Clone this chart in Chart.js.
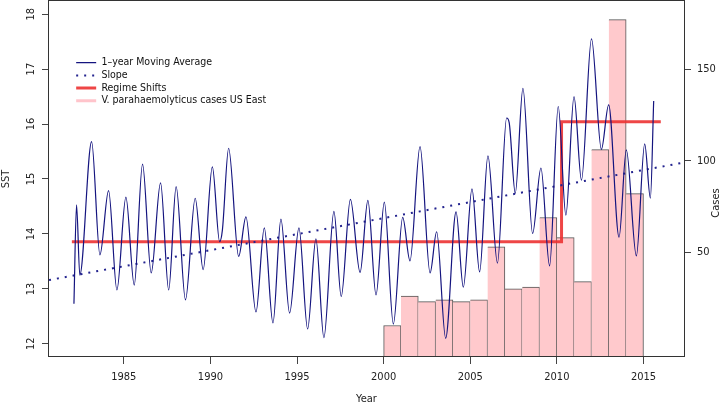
<!DOCTYPE html>
<html>
<head>
<meta charset="utf-8">
<script src="https://cdn.jsdelivr.net/npm/chart.js@4/dist/chart.umd.min.js"></script>
<style>
  html, body { margin: 0; padding: 0; background: #fff; }
  #chart { display: block; }
</style>
</head>
<body>
<canvas id="chart" width="720" height="406"></canvas>
<script>
// values (turning points of the moving average)
var maYears = [1982.12, 1982.27, 1982.46, 1983.14, 1983.62, 1984.12, 1984.60, 1985.12, 1985.60, 1986.08,
  1986.58, 1987.12, 1987.59, 1988.02, 1988.56, 1989.12, 1989.58, 1990.11, 1990.53, 1990.69,
  1991.05, 1991.63, 1992.05, 1992.63, 1993.11, 1993.61, 1994.07, 1994.57, 1995.11, 1995.61,
  1996.09, 1996.55, 1997.13, 1997.55, 1998.08, 1998.64, 1999.09, 1999.56, 2000.04, 2000.56,
  2001.10, 2001.52, 2002.10, 2002.68, 2003.06, 2003.58, 2004.18, 2004.60, 2005.10, 2005.54,
  2006.02, 2006.57, 2007.10, 2007.25, 2007.60, 2008.04, 2008.60, 2009.08, 2009.58, 2010.08,
  2010.52, 2010.99, 2011.42, 2012.00, 2012.57, 2012.99, 2013.59, 2014.01, 2014.59, 2015.07,
  2015.40, 2015.59];
var maValues = [12.73, 14.53, 13.25, 15.68, 13.62, 14.79, 12.98, 14.67, 13.07, 15.27,
  13.29, 14.93, 12.98, 14.86, 12.80, 14.65, 13.35, 15.22, 13.86, 14.07,
  15.56, 13.59, 14.31, 12.58, 14.11, 12.38, 14.27, 12.56, 14.11, 12.27,
  13.91, 12.11, 14.41, 12.86, 14.63, 13.30, 14.61, 12.89, 14.58, 12.36,
  14.30, 13.51, 15.59, 13.29, 14.04, 12.10, 14.40, 13.03, 14.82, 13.31,
  15.42, 13.47, 16.11, 16.02, 14.74, 16.65, 14.01, 15.20, 13.42, 16.32,
  14.34, 16.50, 14.98, 17.55, 15.54, 16.35, 13.94, 15.53, 13.60, 15.64,
  14.65, 16.42];

var slopeYears = [1980.68, 2017.34];
var slopeValues = [13.16, 15.30];

var regimeYears = [1982.0, 2010.27, 2010.27, 2016.0];
var regimeValues = [13.86, 13.86, 16.04, 16.04];

var caseYears = [2000, 2001, 2002, 2003, 2004, 2005, 2006, 2007, 2008, 2009, 2010, 2011, 2012, 2013, 2014];
var caseCounts = [10, 26, 23, 24, 23, 24, 53, 30, 31, 69, 58, 34, 106, 177, 82];

var yearTicks = [1985, 1990, 1995, 2000, 2005, 2010, 2015];
var sstTicks = [12, 13, 14, 15, 16, 17, 18];
var caseTicks = [50, 100, 150];

var FONT = "'DejaVu Sans Condensed', 'DejaVu Sans', sans-serif";
var INK = '#222';

function pairs(xs, ys) {
    return xs.map(function (x, i) { return { x: x, y: ys[i] }; });
}

function fixedTicks(list) {
    return function (scale) {
        scale.ticks = list.map(function (v) { return { value: v }; });
    };
}

// legend sits inside the plot, upper left
var legendSpot = {
    id: 'legendSpot',
    beforeDraw: function (chart) {
        var lg = chart.legend;
        var w = lg.width, h = lg.height;
        lg.left = 74;
        lg.top = 55.3;
        lg.right = lg.left + w;
        lg.bottom = lg.top + h;
    }
};

// box round the plot and the right-hand axis title
var frame = {
    id: 'frame',
    afterDraw: function (chart) {
        var a = chart.chartArea, c = chart.ctx;
        c.save();
        c.strokeStyle = '#333';
        c.lineWidth = 1;
        c.strokeRect(Math.round(a.left) - 0.5, Math.round(a.top) - 0.5,
            Math.round(a.right - a.left) + 1, Math.round(a.bottom - a.top));
        c.fillStyle = INK;
        c.font = '11px ' + FONT;
        c.translate(716, 203);
        c.rotate(-Math.PI / 2);
        c.textAlign = 'center';
        c.textBaseline = 'middle';
        c.fillText('Cases', 0, 0);
        c.restore();
    }
};

document.addEventListener('DOMContentLoaded', function () {
    var ctx = document.getElementById('chart').getContext('2d');
    new Chart(ctx, {
        type: 'line',
        data: {
            datasets: [{
                label: '1\u2013year Moving Average',
                data: pairs(maYears, maValues),
                borderColor: '#14147f',
                borderWidth: 1.2,
                pointRadius: 0,
                cubicInterpolationMode: 'monotone',
                yAxisID: 'y',
                order: 1
            }, {
                label: 'Slope',
                data: pairs(slopeYears, slopeValues),
                borderColor: '#23238f',
                borderWidth: 2,
                borderDash: [2, 6],
                pointRadius: 0,
                yAxisID: 'y',
                order: 2
            }, {
                label: 'Regime Shifts',
                data: pairs(regimeYears, regimeValues),
                borderColor: 'rgba(236, 50, 50, 0.9)',
                borderWidth: 3,
                pointRadius: 0,
                yAxisID: 'y',
                order: 3
            }, {
                type: 'bar',
                label: 'V. parahaemolyticus cases US East',
                data: pairs(caseYears.map(function (y) { return y + 0.5; }), caseCounts),
                backgroundColor: '#ffc9cc',
                borderColor: '#555',
                borderSkipped: false,
                borderWidth: function (c) {
                    return { top: 1, right: 1, bottom: 0, left: c.dataIndex === 0 ? 1 : 0 };
                },
                barPercentage: 1,
                categoryPercentage: 1,
                base: -7.2,
                yAxisID: 'y2',
                order: 4
            }]
        },
        options: {
            responsive: false,
            animation: false,
            devicePixelRatio: 1,
            layout: { padding: { top: 1, left: 0, right: 0, bottom: 0 } },
            plugins: {
                tooltip: { enabled: false },
                legend: {
                    position: 'chartArea',
                    align: 'start',
                    labels: {
                        usePointStyle: true,
                        pointStyleWidth: 20,
                        padding: 2.17,
                        color: '#111',
                        font: { size: 10.5, family: FONT },
                        generateLabels: function (chart) {
                            return chart.data.datasets.map(function (ds, i) {
                                var isBar = ds.type === 'bar';
                                return {
                                    text: ds.label,
                                    datasetIndex: i,
                                    fillStyle: 'rgba(0,0,0,0)',
                                    strokeStyle: isBar ? '#ffc4cb' : ds.borderColor,
                                    lineWidth: isBar ? 3 : ds.borderWidth,
                                    lineDash: ds.borderDash || [],
                                    pointStyle: 'line',
                                    fontColor: '#111'
                                };
                            });
                        }
                    }
                }
            },
            scales: {
                x: {
                    type: 'linear',
                    position: 'bottom',
                    min: 1980.68,
                    max: 2017.34,
                    offset: false,
                    afterBuildTicks: fixedTicks(yearTicks),
                    afterFit: function (s) { s.height = 49; s.paddingLeft = 0; s.paddingRight = 0; },
                    grid: { drawOnChartArea: false, offset: false, tickLength: 7, color: '#444' },
                    border: { display: false },
                    ticks: {
                        color: INK, padding: 7, maxRotation: 0, autoSkip: false,
                        font: { size: 11, family: FONT },
                        callback: function (v) { return String(v); }
                    },
                    title: {
                        display: true, text: 'Year', color: INK,
                        font: { size: 11, family: FONT }, padding: { top: 0, bottom: 0 }
                    }
                },
                y: {
                    type: 'linear',
                    position: 'left',
                    min: 11.76,
                    max: 18.24,
                    afterBuildTicks: fixedTicks(sstTicks),
                    afterFit: function (s) { s.width = 49; s.paddingTop = 0; s.paddingBottom = 0; },
                    grid: { drawOnChartArea: false, tickLength: 7, color: '#444' },
                    border: { display: false },
                    ticks: {
                        color: INK, padding: 5, autoSkip: false,
                        minRotation: 90, maxRotation: 90, crossAlign: 'center',
                        font: { size: 11, family: FONT },
                        callback: function (v) { return String(v); }
                    },
                    title: {
                        display: true, text: 'SST', color: INK,
                        font: { size: 11, family: FONT }, padding: { top: 0, bottom: 0 }
                    }
                },
                y2: {
                    type: 'linear',
                    position: 'right',
                    min: -7.2,
                    max: 187.2,
                    afterBuildTicks: fixedTicks(caseTicks),
                    afterFit: function (s) { s.width = 36; s.paddingTop = 0; s.paddingBottom = 0; },
                    grid: { drawOnChartArea: false, tickLength: 7, color: '#444' },
                    border: { display: false },
                    ticks: {
                        color: INK, padding: 6, autoSkip: false,
                        font: { size: 11, family: FONT },
                        callback: function (v) { return String(v); }
                    }
                }
            }
        },
        plugins: [legendSpot, frame]
    });
});
</script>
</body>
</html>
